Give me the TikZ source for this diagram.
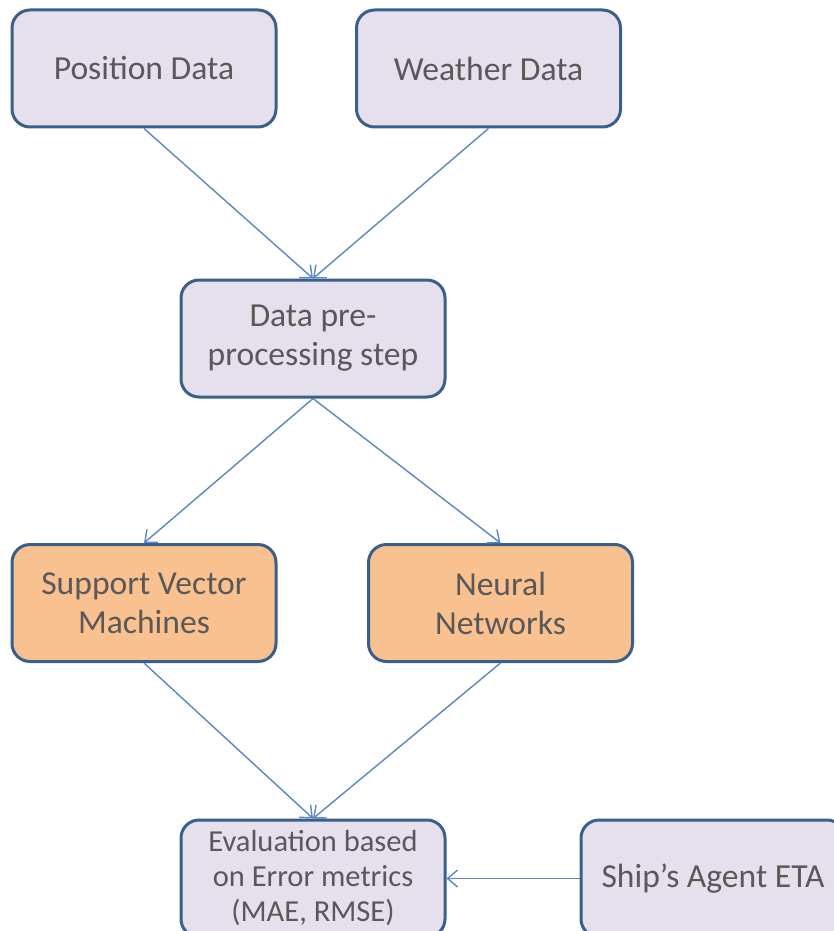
\documentclass[tikz,border=0pt]{standalone}
\usepackage{fontspec}
\setmainfont{Carlito}
\usetikzlibrary{arrows.meta}
\definecolor{boxline}{HTML}{3A5F8B}
\definecolor{boxfill}{HTML}{E5E0EC}
\definecolor{orangefill}{HTML}{F9C090}
\definecolor{arrowcol}{HTML}{5A87C0}
\definecolor{txt}{HTML}{595959}
\begin{document}
\begin{tikzpicture}[x=1pt,y=-1pt,
    box/.style={draw=boxline,line width=3pt,fill=boxfill,rounded corners=18pt,
      minimum width=264pt,minimum height=117pt,align=center,text=txt,
      font=\fontsize{33.6}{39}\selectfont},
    model/.style={box,fill=orangefill},
    link/.style={draw=arrowcol,line width=1.4pt,-{Straight Barb[length=10pt,width=17pt,line width=1.4pt]}}]
  \useasboundingbox (0,0) rectangle (834,931);
  \clip (0,0) rectangle (834,931);
  \node[box] (pos) at (144,68.5) {Position Data};
  \node[box] (wea) at (488.5,68.5) {Weather Data};
  \node[box] (pre) at (313,338.5) {Data pre-\\processing step};
  \node[model] (svm) at (144,603) {Support Vector\\Machines};
  \node[model] (nn) at (500.5,603) {Neural\\Networks};
  \node[box,font=\fontsize{30.5}{35}\selectfont] (eval) at (313,878.5) {Evaluation based\\on Error metrics\\(MAE, RMSE)};
  \node[box] (ship) at (713,878.5) {Ship’s Agent ETA};
  \draw[link] (pos.south) -- (pre.north);
  \draw[link] (wea.south) -- (pre.north);
  \draw[link] (pre.south) -- (svm.north);
  \draw[link] (pre.south) -- (nn.north);
  \draw[link] (svm.south) -- (eval.north);
  \draw[link] (nn.south) -- (eval.north);
  \draw[link] (ship.west) -- (eval.east);
\end{tikzpicture}
\end{document}
